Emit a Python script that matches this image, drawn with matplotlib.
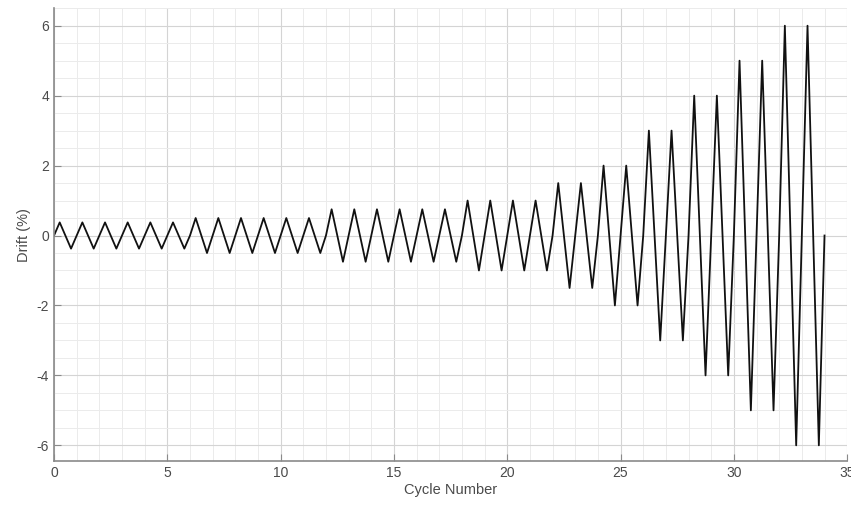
import numpy as np
import matplotlib
matplotlib.use("Agg")
import matplotlib.pyplot as plt
from matplotlib.ticker import MultipleLocator

plt.rcParams["font.family"] = ["Liberation Sans", "DejaVu Sans"]
plt.rcParams["axes.unicode_minus"] = False

# loading protocol: drift amplitude (%) and number of cycles at each step
step_amplitude = [0.375, 0.5, 0.75, 1.0, 1.5, 2.0, 3.0, 4.0, 5.0, 6.0]
step_cycles = [6, 6, 6, 4, 2, 2, 2, 2, 2, 2]

# one triangular cycle: 0 -> +A -> 0 -> -A, sampled at quarter cycles
cycle_shape = [0, 1, 0, -1]

amps = np.repeat(step_amplitude, step_cycles)
drift = [a * s for a in amps for s in cycle_shape] + [0.0]
cycle = np.arange(len(drift)) / len(cycle_shape)

fig = plt.figure(figsize=(8.51, 5.14), dpi=100)
ax = fig.add_axes([0.0635, 0.103, 0.932, 0.881])

ax.plot(cycle, drift, color="#111111", lw=1.3)

ax.set_xlim(0, 35)
ax.set_ylim(-6.45, 6.5)
ax.xaxis.set_major_locator(MultipleLocator(5))
ax.xaxis.set_minor_locator(MultipleLocator(1))
ax.yaxis.set_major_locator(MultipleLocator(2))
ax.yaxis.set_minor_locator(MultipleLocator(0.5))

ax.grid(which="major", color="#d4d4d4", lw=0.8)
ax.grid(which="minor", color="#ebebeb", lw=0.7)
ax.set_axisbelow(True)

for side in ("top", "right"):
    ax.spines[side].set_visible(False)
for side in ("left", "bottom"):
    ax.spines[side].set_color("#8a8a8a")
    ax.spines[side].set_linewidth(1.2)

ax.tick_params(which="both", direction="in", colors="#8a8a8a",
               labelcolor="#4a4a4a", labelsize=10)
ax.tick_params(which="major", length=5)
ax.tick_params(which="minor", length=0)

ax.set_xlabel("Cycle Number", fontsize=10.5, color="#4a4a4a", labelpad=2)
ax.set_ylabel("Drift (%)", fontsize=10.5, color="#4a4a4a", labelpad=4)

fig.savefig("out.png", dpi=100)
